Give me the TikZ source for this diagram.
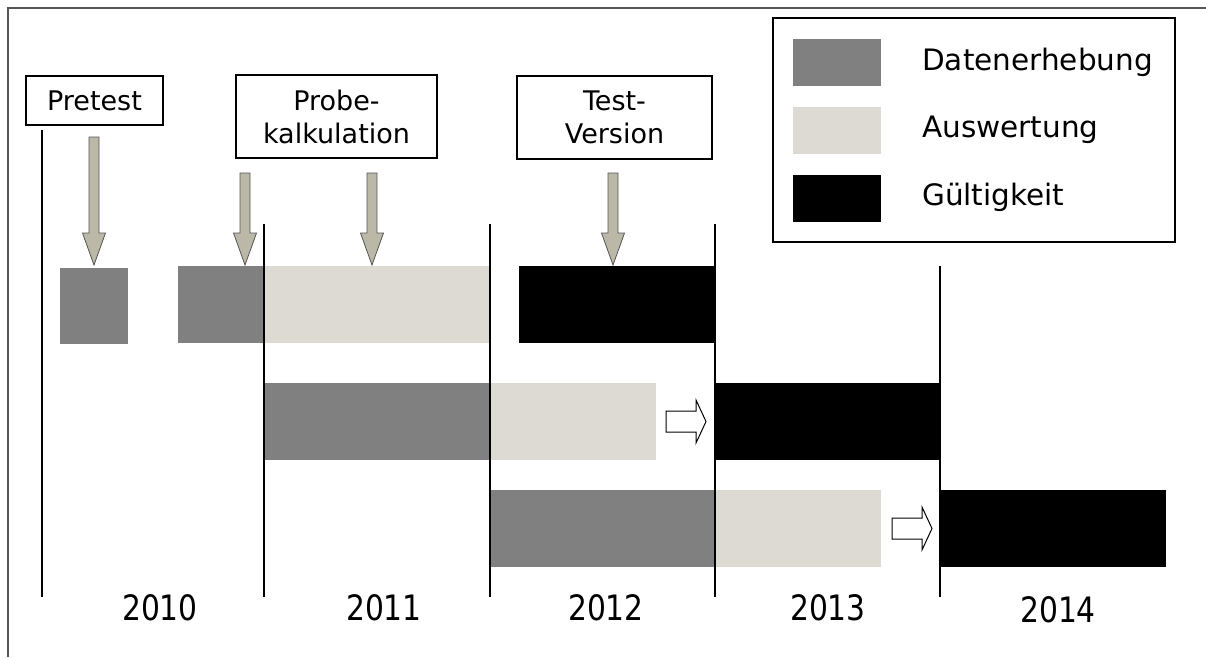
\documentclass[tikz,border=0pt]{standalone}
\usepackage{fontspec}
\setmainfont{DejaVu Sans}
\usepackage{graphicx}
\definecolor{dgray}{HTML}{808080}
\definecolor{lgray}{HTML}{DDDAD3}
\definecolor{afill}{HTML}{BCB8A8}
\definecolor{frame}{HTML}{555555}
\tikzset{
  labelbox/.style={draw=black, line width=1.1pt, fill=white, align=center, inner sep=0pt,
    font=\fontsize{27}{33}\selectfont},
  legtext/.style={anchor=west, inner sep=0pt, font=\fontsize{29.5}{34}\selectfont},
  yeartext/.style={inner sep=0pt, font=\fontsize{35}{40}\selectfont},
  yline/.style={line width=2pt, black},
  garrow/.style={fill=afill, draw=frame, line width=0.8pt, line join=miter},
  harrow/.style={fill=white, draw=black, line width=1pt},
}
\newcommand\grayarrow[3]{%
  \path[garrow] (#1-5,#2) -- (#1-5,233) -- (#1-11.5,233) -- (#1,#3) -- (#1+11.5,233) -- (#1+5,233) -- (#1+5,#2) -- cycle;}
\newcommand\hollowarrow[3]{% x0, x1, yc
  \path[harrow] (#1,#3-10.5) -- (#2-10,#3-10.5) -- (#2-10,#3-21.5) -- (#2,#3) -- (#2-10,#3+21.5) -- (#2-10,#3+10.5) -- (#1,#3+10.5) -- cycle;}
\begin{document}
\begin{tikzpicture}[x=1pt,y=-1pt]
\useasboundingbox (0,0) rectangle (1206,657);
\fill[white] (0,0) rectangle (1206,657);
% outer frame
\draw[frame, line width=1.2pt] (8,657) -- (8,8) -- (1206,8);

% bars row 1
\fill[dgray] (60,268) rectangle (128,344);
\fill[dgray] (178,266) rectangle (264,343);
\fill[lgray] (264,266) rectangle (489,343);
\fill[black] (519,266) rectangle (715,343);
% row 2
\fill[dgray] (264,383) rectangle (490,460);
\fill[lgray] (490,383) rectangle (656,460);
\fill[black] (715,383) rectangle (940,460);
% row 3
\fill[dgray] (490,490) rectangle (715,567);
\fill[lgray] (715,490) rectangle (881,567);
\fill[black] (940,490) rectangle (1166,567);

% year lines
\draw[black, line width=1.2pt] (42,130) -- (42,597);
\draw[yline] (264,224) -- (264,597);
\draw[yline] (490,224) -- (490,597);
\draw[yline] (715,224) -- (715,597);
\draw[yline] (940,266) -- (940,597);

% hollow arrows
\hollowarrow{666}{706}{421.5}
\hollowarrow{892}{932}{528.5}

% gray arrows
\grayarrow{94}{137}{265}
\grayarrow{245}{173}{265}
\grayarrow{372}{173}{265}
\grayarrow{613}{173}{265}

% label boxes
\node[labelbox, minimum width=137pt, minimum height=49pt] (pretest) at (94.5,100.5) {Pretest};
\node[labelbox, minimum width=201pt, minimum height=83pt] (probe) at (336.5,116.5) {Probe-\\kalkulation};
\node[labelbox, minimum width=195pt, minimum height=83pt] (test) at (614.5,117.5) {Test-\\Version};

% legend
\node[draw=black, line width=1.1pt, minimum width=402pt, minimum height=224pt, inner sep=0pt] (legend) at (974,130) {};
\fill[dgray] (793,39) rectangle (881,86);
\fill[lgray] (793,107) rectangle (881,154);
\fill[black] (793,175) rectangle (881,222);
\node[legtext] (l1) at (922,62) {Datenerhebung};
\node[legtext] (l2) at (922,130) {Auswertung};
\node[legtext] (l3) at (922,197) {Gültigkeit};

% years
\node[yeartext] (y10) at (160,608) {\scalebox{0.85}[1]{2010}};
\node[yeartext] (y11) at (384,608) {\scalebox{0.85}[1]{2011}};
\node[yeartext] (y12) at (606,608) {\scalebox{0.85}[1]{2012}};
\node[yeartext] (y13) at (828,608) {\scalebox{0.85}[1]{2013}};
\node[yeartext] (y14) at (1058,610) {\scalebox{0.85}[1]{2014}};
\end{tikzpicture}
\end{document}
